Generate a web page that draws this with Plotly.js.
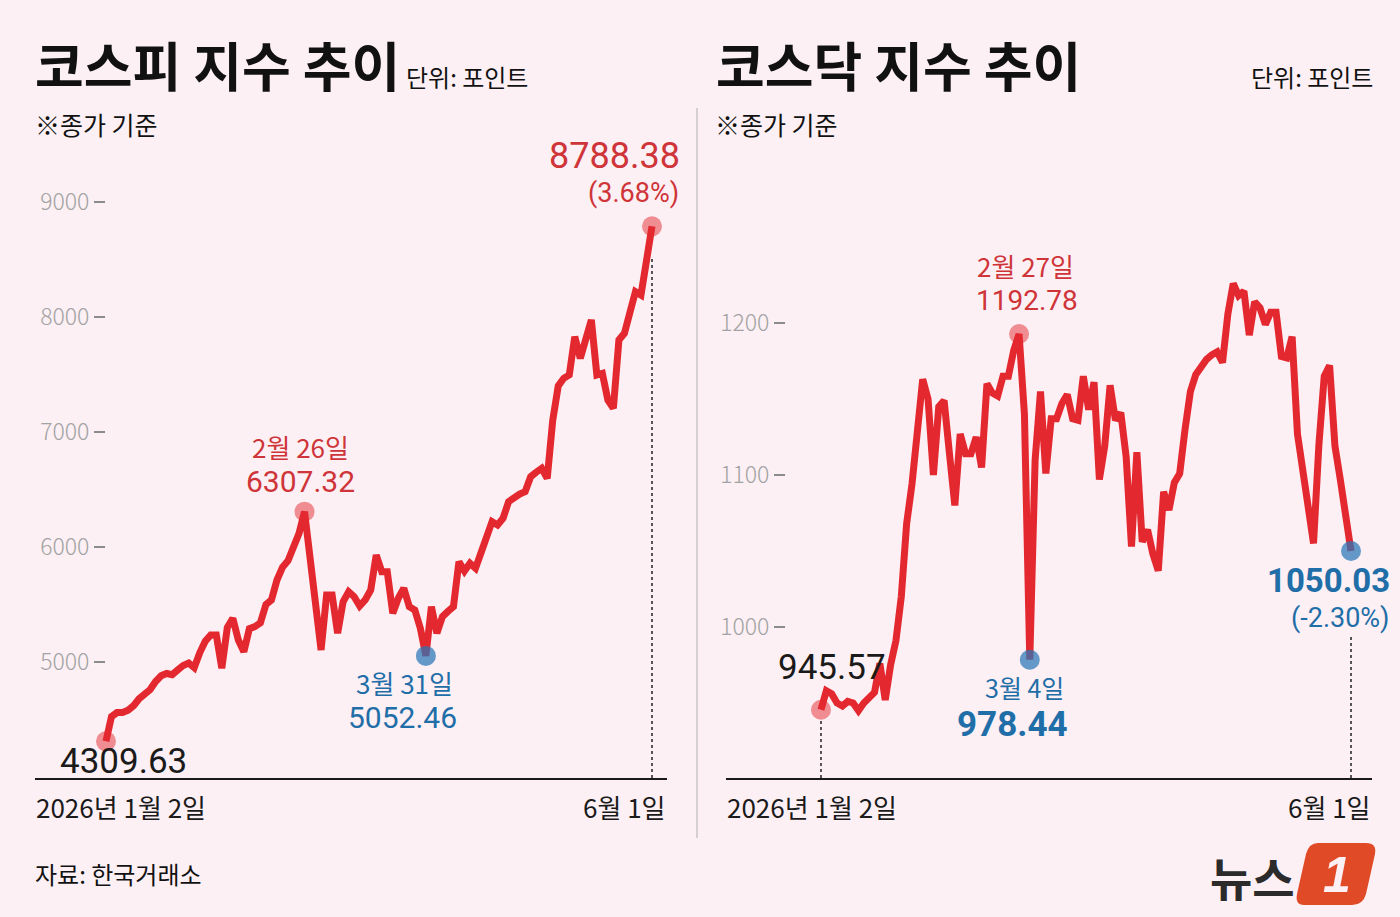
<!DOCTYPE html>
<html><head><meta charset="utf-8">
<script src="https://cdn.plot.ly/plotly-3.0.1.min.js"></script>
<style>html,body{margin:0;padding:0;background:#fcf0f4;} #chart{width:1400px;height:917px;}</style>
</head><body><div id="chart"></div>
<script>
// ---- data ----
const kospiValues = [
  4309.63, 4525, 4560, 4560, 4580, 4620, 4680, 4720, 4760, 4830,
  4880, 4900, 4890, 4930, 4970, 4990, 4950, 5080, 5180, 5235,
  5235, 4945, 5300, 5380, 5190, 5090, 5290, 5307, 5340, 5500,
  5539, 5713, 5823, 5880, 6000, 6119, 6307.32, 5900, 5500, 5104,
  5583, 5583, 5250, 5524, 5611, 5568, 5487, 5539, 5626, 5930,
  5785, 5785, 5423, 5554, 5641, 5481, 5452, 5293, 5052.46, 5481,
  5250, 5394, 5440, 5481, 5872, 5790, 5858, 5815, 5950, 6100,
  6220, 6191, 6250, 6394, 6430, 6460, 6481, 6611, 6650, 6684,
  6597, 7100, 7400, 7467, 7496, 7829, 7641, 7829, 7974, 7496,
  7510, 7278, 7206, 7800, 7858, 8040, 8220, 8191, 8496, 8788.38
];
const kosdaqValues = [
  945.57, 958, 956, 950, 948, 951, 950, 945, 950, 954,
  957, 976, 952, 975, 991, 1020, 1068, 1094, 1133, 1163,
  1150, 1100, 1145, 1149, 1114, 1080, 1127, 1114, 1114, 1125,
  1105, 1160, 1154, 1152, 1165, 1165, 1182, 1192.78, 1140, 978.44,
  1110, 1155, 1101, 1137, 1137, 1147, 1153, 1137, 1136, 1165,
  1143, 1161, 1097, 1119, 1159, 1136, 1141, 1112, 1053, 1115,
  1056, 1064, 1048, 1037, 1089, 1077, 1095, 1101, 1130, 1155,
  1166, 1172, 1176, 1179, 1181, 1174, 1206, 1226, 1218, 1221,
  1192, 1214, 1210, 1199, 1207, 1207, 1178, 1177, 1191, 1127,
  1103, 1079, 1055, 1120, 1165, 1172, 1119, 1097, 1072, 1050.03
];
const kospiTicks = [5000, 6000, 7000, 8000, 9000];
const kosdaqTicks = [1000, 1100, 1200];
const dateLabels = ['2026년 1월 2일', '6월 1일'];
const kospiMarks = [0, 36, 58, 99];      // start, high, low, end
const kosdaqMarks = [0, 37, 39, 99];     // start, high, low, end
const kospiMarkDates = ['', '2월 26일', '3월 31일', ''];
const kosdaqMarkDates = ['', '2월 27일', '3월 4일', ''];
const kospiChange = '(3.68%)';
const kosdaqChange = '(-2.30%)';

// ---- styling ----
const W = 1400, H = 917;
const px = x => x / W;
const py = y => 1 - y / H;
const RED = '#e3292f', RED_TXT = '#cf3439', BLUE_TXT = '#1f6ea8', INK = '#1a1a1a';
const NUM = '"Noto Sans CJK KR", "Noto Sans", sans-serif';
const DIG = 'Roboto, "Noto Sans CJK KR", sans-serif';
const KR = '"Noto Sans CJK KR", sans-serif';
const PINK_M = 'rgba(227,41,47,0.5)', BLUE_M = 'rgba(40,118,185,0.72)';

const idx = a => a.map((_, i) => i);
const fmt = v => v.toFixed(2);

const traces = [
  {x: idx(kospiValues), y: kospiValues, mode: 'lines', line: {color: RED, width: 7}, xaxis: 'x', yaxis: 'y', hoverinfo: 'skip'},
  {x: kospiMarks, y: kospiMarks.map(i => kospiValues[i]), mode: 'markers', xaxis: 'x', yaxis: 'y',
   marker: {size: 20, color: [PINK_M, PINK_M, BLUE_M, PINK_M], line: {width: 0}}, hoverinfo: 'skip'},
  {x: idx(kosdaqValues), y: kosdaqValues, mode: 'lines', line: {color: RED, width: 7}, xaxis: 'x2', yaxis: 'y2', hoverinfo: 'skip'},
  {x: kosdaqMarks, y: kosdaqMarks.map(i => kosdaqValues[i]), mode: 'markers', xaxis: 'x2', yaxis: 'y2',
   marker: {size: 20, color: [PINK_M, PINK_M, BLUE_M, BLUE_M], line: {width: 0}}, hoverinfo: 'skip'}
];

const xBase = {showline: true, linecolor: INK, linewidth: 1.5, showgrid: false, zeroline: false, showticklabels: false, ticks: ''};
const yBase = {showline: false, showgrid: false, zeroline: false, ticks: 'outside', ticklen: 11, tickwidth: 1.5,
  tickcolor: '#8c8c8c', tickfont: {family: NUM, size: 23, color: '#a3a3a3', weight: 300}, anchor: 'free'};

function ann(text, o) {
  return Object.assign({text: text, showarrow: false, xref: 'paper', yref: 'paper', xanchor: 'left', yanchor: 'middle',
    borderpad: 0, font: {family: KR, size: 24, color: INK}}, o);
}
function dataAnn(text, xa, ya, i, v, o) {
  return Object.assign({text: text, showarrow: false, xref: xa, yref: ya, x: i, y: v, xanchor: 'center', yanchor: 'middle',
    borderpad: 0, font: {family: NUM, size: 28, color: RED_TXT}}, o);
}
const f = (size, color, weight) => ({family: NUM, size: size, color: color, weight: weight || 400});
const g = (size, color, weight) => ({family: DIG, size: size, color: color, weight: weight || 400});

const kp = kospiMarks, kd = kosdaqMarks;
const annotations = [
  // titles
  ann('<b>코스피 지수 추이</b>', {x: px(34), y: py(64), font: {family: KR, size: 53, color: '#111'}}),
  ann('단위: 포인트', {x: px(405), y: py(76), font: {family: KR, size: 24, color: '#111'}}),
  ann('※종가 기준', {x: px(34), y: py(124), font: {family: KR, size: 25, color: '#111'}}),
  ann('<b>코스닥 지수 추이</b>', {x: px(715), y: py(64), font: {family: KR, size: 53, color: '#111'}}),
  ann('단위: 포인트', {x: px(1374), y: py(76), xanchor: 'right', font: {family: KR, size: 24, color: '#111'}}),
  ann('※종가 기준', {x: px(714), y: py(124), font: {family: KR, size: 25, color: '#111'}}),
  ann('자료: 한국거래소', {x: px(34), y: py(873), font: {family: KR, size: 24, color: '#111'}}),
  // date labels under axes
  ann(dateLabels[0], {xref: 'x domain', x: 0, y: py(806), font: f(26, INK)}),
  ann(dateLabels[1], {xref: 'x domain', x: 1, xanchor: 'right', y: py(806), font: f(26, INK)}),
  ann(dateLabels[0], {xref: 'x2 domain', x: 0, y: py(806), font: f(26, INK)}),
  ann(dateLabels[1], {xref: 'x2 domain', x: 1, xanchor: 'right', y: py(806), font: f(26, INK)}),
  // KOSPI point labels
  dataAnn(fmt(kospiValues[kp[0]]), 'x', 'y', kp[0], kospiValues[kp[0]], {xshift: 18, yshift: -20, font: g(35, INK)}),
  dataAnn(kospiMarkDates[1], 'x', 'y', kp[1], kospiValues[kp[1]], {xshift: -4, yshift: 65, font: f(26, RED_TXT)}),
  dataAnn(fmt(kospiValues[kp[1]]), 'x', 'y', kp[1], kospiValues[kp[1]], {xshift: -4, yshift: 30, font: g(30, RED_TXT)}),
  dataAnn(kospiMarkDates[2], 'x', 'y', kp[2], kospiValues[kp[2]], {xshift: -21, yshift: -27, font: f(26, BLUE_TXT)}),
  dataAnn(fmt(kospiValues[kp[2]]), 'x', 'y', kp[2], kospiValues[kp[2]], {xshift: -23, yshift: -62, font: g(30, BLUE_TXT)}),
  dataAnn(fmt(kospiValues[kp[3]]), 'x', 'y', kp[3], kospiValues[kp[3]], {xanchor: 'right', xshift: 29, yshift: 70, font: g(36, RED_TXT)}),
  dataAnn(kospiChange, 'x', 'y', kp[3], kospiValues[kp[3]], {xanchor: 'right', xshift: 28, yshift: 33, font: g(27, RED_TXT)}),
  // KOSDAQ point labels
  dataAnn(fmt(kosdaqValues[kd[0]]), 'x2', 'y2', kd[0], kosdaqValues[kd[0]], {xshift: 11, yshift: 42, font: g(35, INK)}),
  dataAnn(kosdaqMarkDates[1], 'x2', 'y2', kd[1], kosdaqValues[kd[1]], {xshift: 6, yshift: 68, font: f(26, RED_TXT)}),
  dataAnn(fmt(kosdaqValues[kd[1]]), 'x2', 'y2', kd[1], kosdaqValues[kd[1]], {xshift: 8, yshift: 33, font: g(28, RED_TXT)}),
  dataAnn(kosdaqMarkDates[2], 'x2', 'y2', kd[2], kosdaqValues[kd[2]], {xshift: -5, yshift: -27, font: f(25, BLUE_TXT)}),
  dataAnn(fmt(kosdaqValues[kd[2]]), 'x2', 'y2', kd[2], kosdaqValues[kd[2]], {xshift: -17, yshift: -65, font: g(35, BLUE_TXT, 700)}),
  dataAnn(fmt(kosdaqValues[kd[3]]), 'x2', 'y2', kd[3], kosdaqValues[kd[3]], {xanchor: 'right', xshift: 40, yshift: -30, font: g(33, BLUE_TXT, 700)}),
  dataAnn(kosdaqChange, 'x2', 'y2', kd[3], kosdaqValues[kd[3]], {xanchor: 'right', xshift: 40, yshift: -67, font: g(27, BLUE_TXT)}),
  // logo
  ann('<b>뉴스</b>', {x: px(1296), xanchor: 'right', y: py(876), font: {family: KR, size: 46, color: '#2b2b2b'}}),
  ann('<b><i>1</i></b>', {x: px(1337), xanchor: 'center', y: py(875), font: {family: '"Liberation Sans", sans-serif', size: 50, color: '#fcf0f4'}})
];

const dot = {type: 'line', line: {color: '#222', width: 1.5, dash: 'dot'}, layer: 'below'};
const shapes = [
  Object.assign({}, dot, {xref: 'x', yref: 'paper', x0: kp[3], x1: kp[3], y0: py(778), y1: py(258)}),
  Object.assign({}, dot, {xref: 'x2', yref: 'paper', x0: kd[0], x1: kd[0], y0: py(778), y1: py(718)}),
  Object.assign({}, dot, {xref: 'x2', yref: 'paper', x0: kd[3], x1: kd[3], y0: py(778), y1: py(636)}),
  // panel separator
  {type: 'line', xref: 'paper', yref: 'paper', x0: px(697), x1: px(697), y0: py(108), y1: py(838), line: {color: '#d6cfd2', width: 2}},
  // logo badge
  {type: 'path', xref: 'paper', yref: 'paper', fillcolor: '#e04a26', line: {width: 0},
   path: `M ${px(1318)} ${py(843)} L ${px(1366)} ${py(843)} Q ${px(1377)} ${py(843)} ${px(1375)} ${py(854)} L ${px(1366)} ${py(894)} Q ${px(1363)} ${py(905)} ${px(1352)} ${py(905)} L ${px(1304)} ${py(905)} Q ${px(1295)} ${py(905)} ${px(1297)} ${py(894)} L ${px(1306)} ${py(854)} Q ${px(1309)} ${py(843)} ${px(1318)} ${py(843)} Z`}
];

const layout = {
  width: W, height: H, margin: {l: 0, r: 0, t: 0, b: 0},
  paper_bgcolor: '#fcf0f4', plot_bgcolor: 'rgba(0,0,0,0)', showlegend: false,
  xaxis: Object.assign({}, xBase, {domain: [px(35), px(667)], range: [-12.87, 101.72], anchor: 'y'}),
  yaxis: Object.assign({}, yBase, {domain: [py(778), py(140)], range: [3991, 9539], position: px(105), tickvals: kospiTicks}),
  xaxis2: Object.assign({}, xBase, {domain: [px(726), px(1372)], range: [-17.74, 102.92], anchor: 'y2'}),
  yaxis2: Object.assign({}, yBase, {domain: [py(778), py(140)], range: [900.66, 1320.4], position: px(785), tickvals: kosdaqTicks}),
  annotations: annotations, shapes: shapes
};

Plotly.newPlot('chart', traces, layout, {displayModeBar: false, staticPlot: true});
</script>
</body></html>
